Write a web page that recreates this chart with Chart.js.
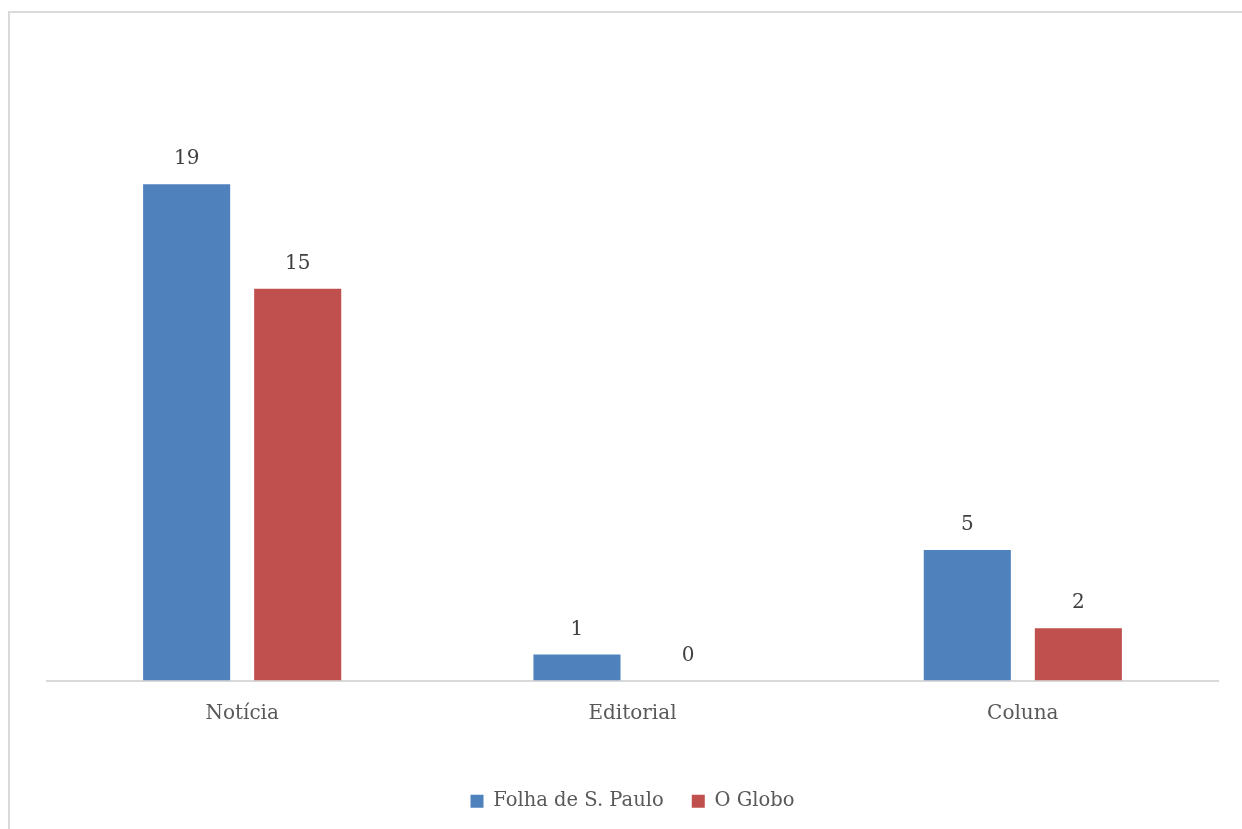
<!DOCTYPE html>
<html>
<head>
<meta charset="utf-8">
<script src="https://cdn.jsdelivr.net/npm/chart.js@4"></script>
<style>
    body { margin: 0; background: #fff; overflow: hidden; }
    .frame { position: absolute; left: 8px; top: 11px; width: 1300px; height: 900px; border: 2px solid #d9d9d9; }
    .wrap { position: absolute; left: 0; top: 0; width: 1242px; height: 829px; }
</style>
</head>
<body>
<div class="frame"></div>
<div class="wrap"><canvas id="myChart"></canvas></div>
<script>
// data
const categories = ['Notícia', 'Editorial', 'Coluna'];
const folha = [19, 1, 5];
const globo = [15, 0, 2];
const seriesNames = ['Folha de S. Paulo', 'O Globo'];

const fontFam = "'DejaVu Serif', serif";

// value labels above bars
const valueLabels = {
    id: 'valueLabels',
    afterDatasetsDraw(chart) {
        const ctx = chart.ctx;
        ctx.save();
        ctx.font = '20px ' + fontFam;
        ctx.fillStyle = '#404040';
        ctx.textAlign = 'center';
        ctx.textBaseline = 'middle';
        chart.data.datasets.forEach(function (ds, i) {
            chart.getDatasetMeta(i).data.forEach(function (bar, j) {
                ctx.fillText(ds.data[j], bar.x, bar.y - 25);
            });
        });
        ctx.restore();
    }
};

const ctx = document.getElementById('myChart');

new Chart(ctx, {
    type: 'bar',
    data: {
        labels: categories,
        datasets: [{
            label: seriesNames[0],
            data: folha,
            backgroundColor: '#4f81bd',
            categoryPercentage: 0.569,
            barPercentage: 0.784
        }, {
            label: seriesNames[1],
            data: globo,
            backgroundColor: '#c0504d',
            categoryPercentage: 0.569,
            barPercentage: 0.784
        }]
    },
    options: {
        responsive: true,
        maintainAspectRatio: false,
        animation: false,
        layout: {
            padding: { left: 47, right: 24, top: 158, bottom: 8 }
        },
        plugins: {
            legend: {
                position: 'bottom',
                labels: {
                    boxWidth: 13,
                    boxHeight: 13,
                    padding: 28,
                    color: '#595959',
                    font: { family: fontFam, size: 19.5 }
                }
            },
            tooltip: { enabled: false }
        },
        scales: {
            x: {
                grid: { display: false, drawTicks: false },
                border: { color: '#d9d9d9', width: 2 },
                ticks: {
                    color: '#595959',
                    padding: 21,
                    font: { family: fontFam, size: 20 }
                },
                afterFit(scale) {
                    scale.height += 17;
                }
            },
            y: {
                display: false,
                min: 0,
                max: 20
            }
        }
    },
    plugins: [valueLabels]
});
</script>
</body>
</html>
